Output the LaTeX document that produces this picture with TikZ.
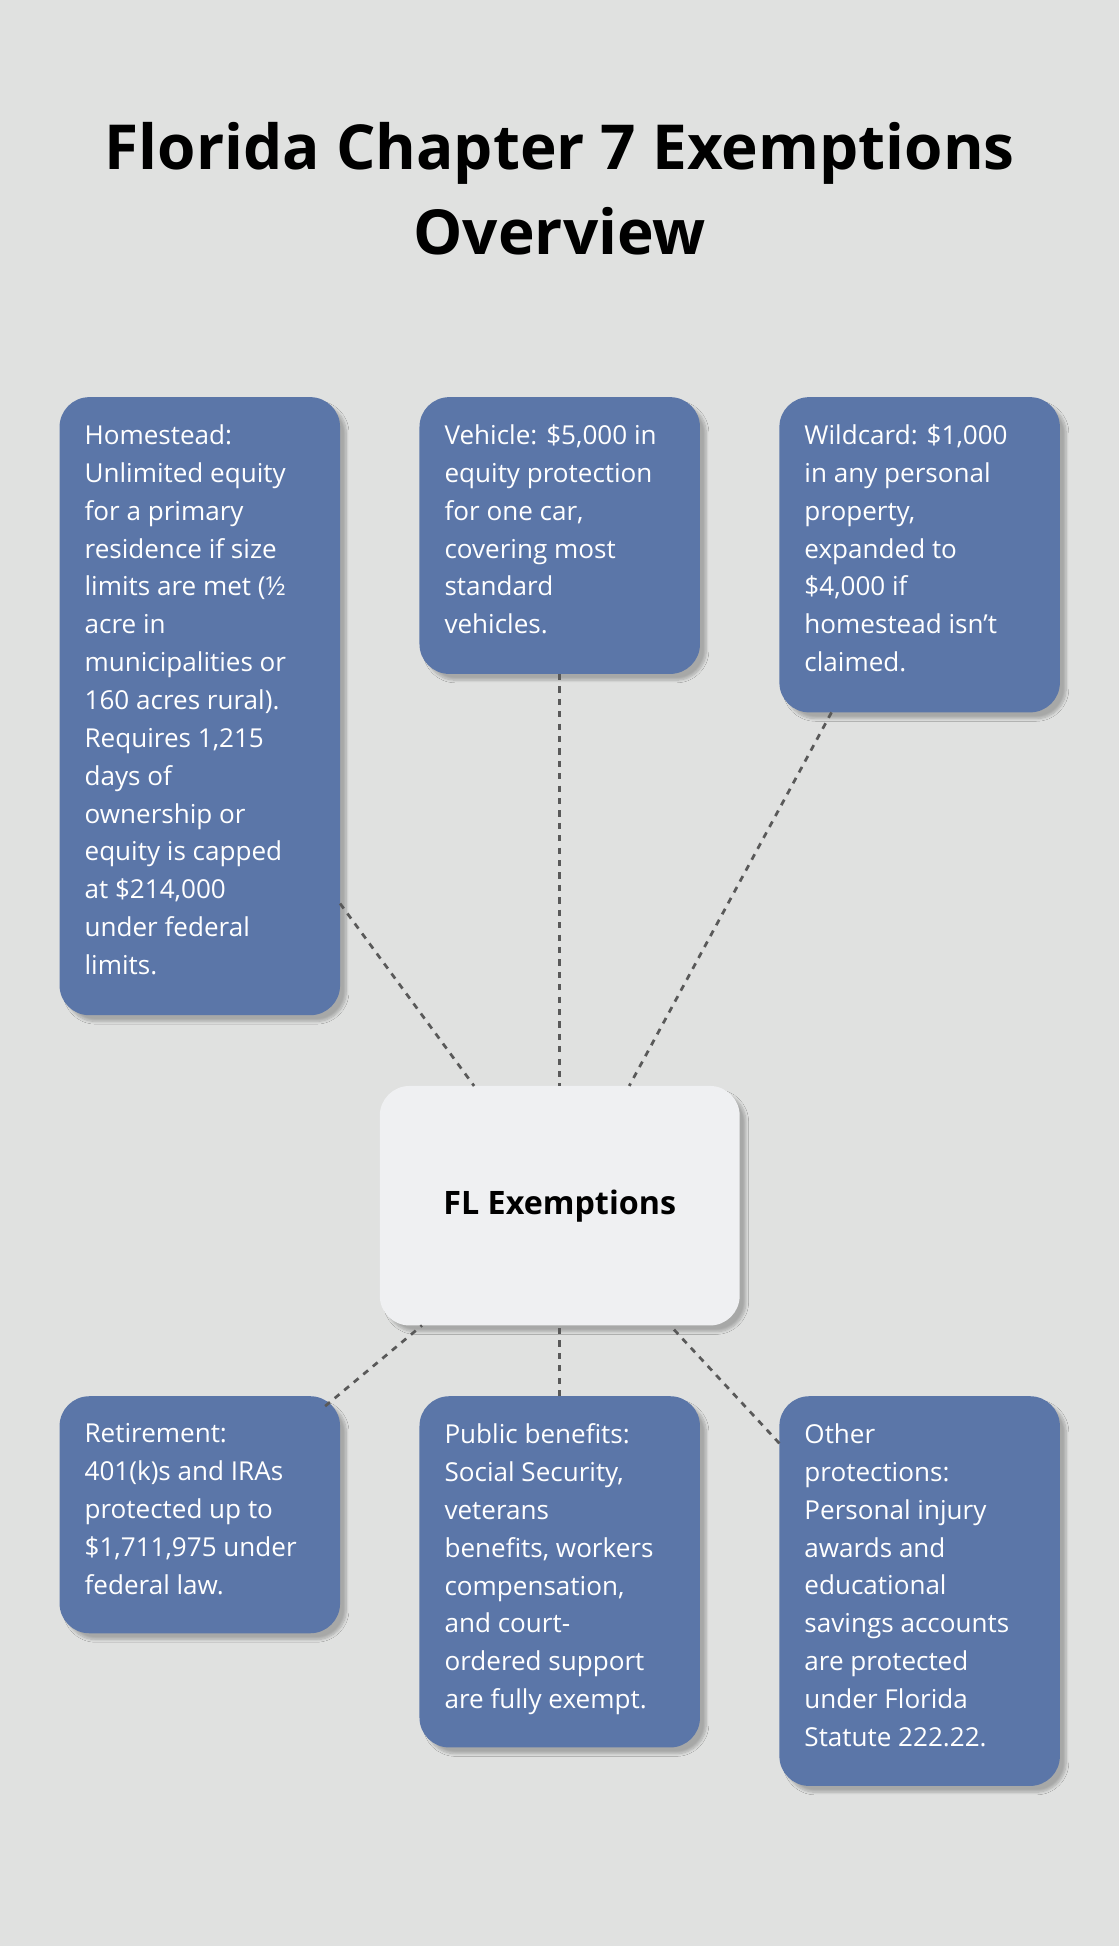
\documentclass[tikz,border=0pt]{standalone}
\usepackage{fontspec}
\setmainfont{Open Sans}
\usetikzlibrary{shadows.blur}
\definecolor{bg}{HTML}{E0E1E0}
\definecolor{boxb}{HTML}{5B76A8}
\definecolor{cbox}{HTML}{EFF0F2}
\begin{document}
\begin{tikzpicture}[x=1pt,y=-1pt,
  box/.style={draw=none,fill=boxb,rounded corners=24pt,blur shadow={shadow xshift=5pt,shadow yshift=-5pt,shadow opacity=25,shadow blur steps=8}},
  txt/.style={anchor=north west,inner sep=0pt,align=left,text=white,font=\fontsize{21}{30.5}\selectfont},
  conn/.style={draw=black!65,line width=2.2pt,dash pattern=on 5pt off 5pt}]
\fill[bg] (0,0) rectangle (902,1568);
\useasboundingbox (0,0) rectangle (902,1568);
\node[inner sep=0pt,align=center,font=\fontsize{50}{68}\selectfont\bfseries] (title) at (451,152) {Florida Chapter 7 Exemptions\\Overview};
% boxes
\filldraw[box] (48,320) rectangle (274,818);
\filldraw[box] (338,320) rectangle (564,543);
\filldraw[box] (628,320) rectangle (854,574);
\filldraw[box] (48,1125) rectangle (274,1316);
\filldraw[box] (338,1125) rectangle (564,1408);
\filldraw[box] (628,1125) rectangle (854,1439);
\filldraw[box,fill=cbox] (306,875) rectangle (596,1068);
\node[font=\fontsize{26}{30}\selectfont\bfseries,inner sep=0pt] (c) at (451,972) {FL Exemptions};
% connectors
\coordinate (h) at (274,728); \coordinate (hc) at (382,875);
\coordinate (v) at (451,543); \coordinate (vc) at (451,875);
\coordinate (w) at (670,574); \coordinate (wc) at (507,875);
\coordinate (r) at (262,1133); \coordinate (rc) at (340,1068);
\coordinate (p) at (451,1125); \coordinate (pc) at (451,1068);
\coordinate (o) at (628,1163); \coordinate (oc) at (540,1068);
\draw[conn] (h)--(hc); \draw[conn] (v)--(vc); \draw[conn] (w)--(wc);
\draw[conn] (r)--(rc); \draw[conn] (p)--(pc); \draw[conn] (o)--(oc);
% texts
\node[txt] (t1) at (68,342) {Homestead:\\Unlimited equity\\for a primary\\residence if size\\limits are met (½\\acre in\\municipalities or\\160 acres rural).\\Requires 1,215\\days of\\ownership or\\equity is capped\\at \$214,000\\under federal\\limits.};
\node[txt] (t2) at (358,342) {Vehicle: \$5,000 in\\equity protection\\for one car,\\covering most\\standard\\vehicles.};
\node[txt] (t3) at (648,342) {Wildcard: \$1,000\\in any personal\\property,\\expanded to\\\$4,000 if\\homestead isn’t\\claimed.};
\node[txt] (t4) at (68,1147) {Retirement:\\401(k)s and IRAs\\protected up to\\\$1,711,975 under\\federal law.};
\node[txt] (t5) at (358,1147) {Public benefits:\\Social Security,\\veterans\\benefits, workers\\compensation,\\and court-\\ordered support\\are fully exempt.};
\node[txt] (t6) at (648,1147) {Other\\protections:\\Personal injury\\awards and\\educational\\savings accounts\\are protected\\under Florida\\Statute 222.22.};
\end{tikzpicture}
\end{document}
